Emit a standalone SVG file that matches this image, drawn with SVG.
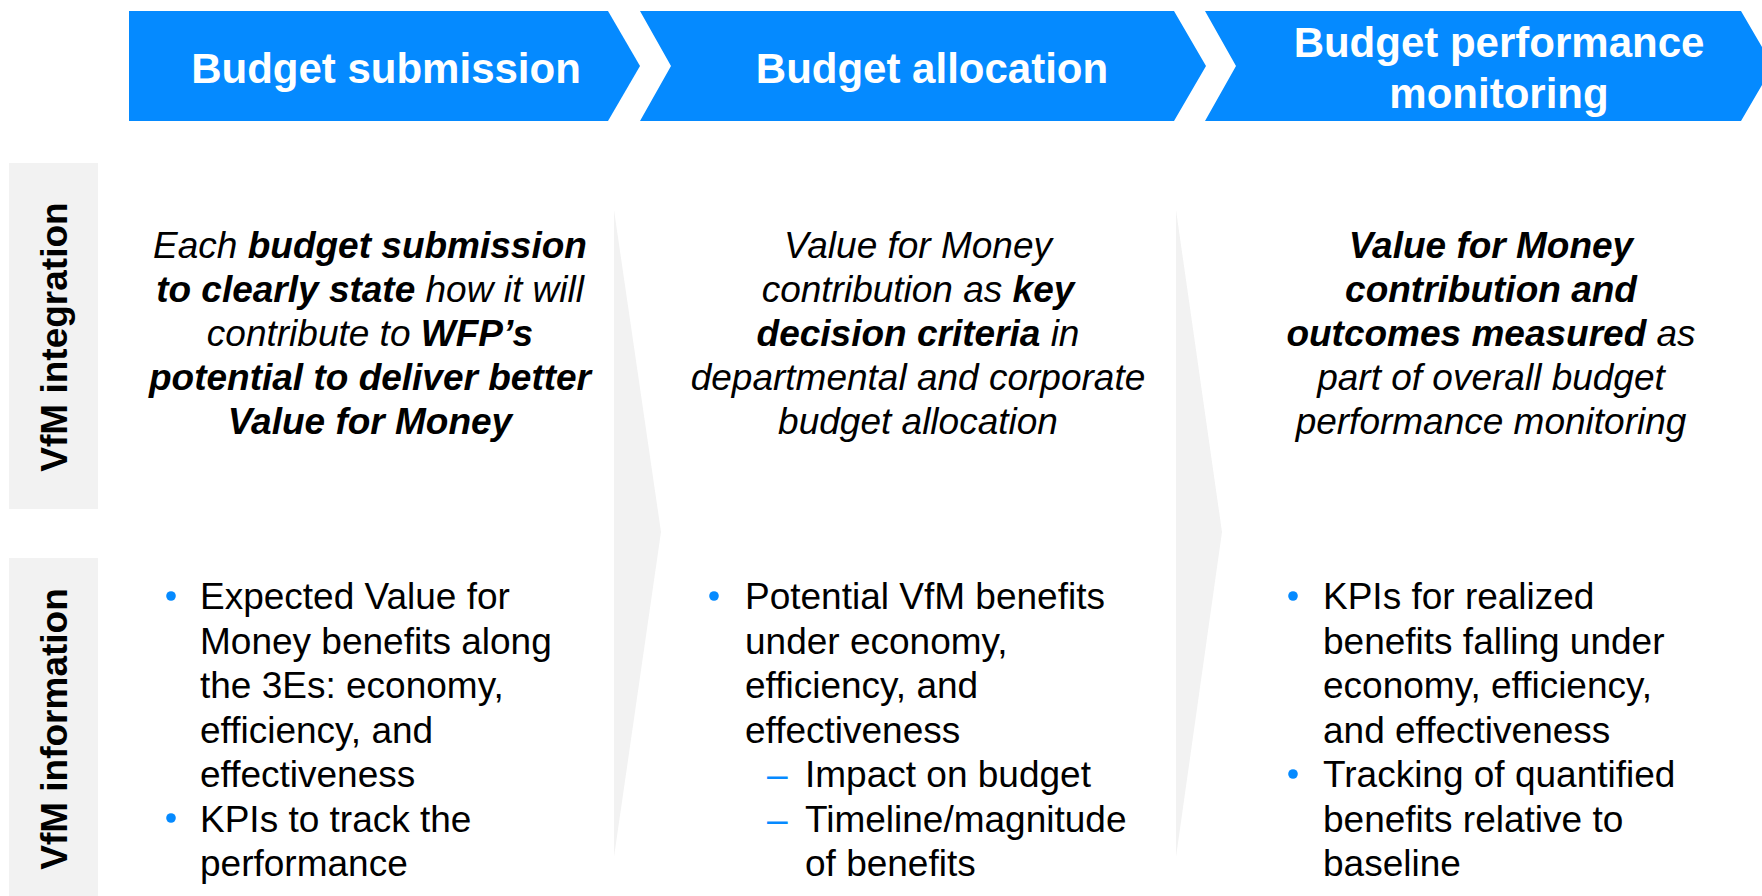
<svg xmlns="http://www.w3.org/2000/svg" width="1762" height="896" viewBox="0 0 1762 896">
  <style>
    .phase { fill: #058AFF; }
    .phase-label { font-family: "Liberation Sans", Arial, sans-serif; font-size: 42px; font-weight: bold; fill: #FFFFFF; text-anchor: middle; }
    .sep { fill: #F2F2F2; }
    .row-box { fill: #F2F2F2; }
    .row-label { font-family: "Liberation Sans", Arial, sans-serif; font-size: 37px; font-weight: bold; fill: #000000; text-anchor: middle; }
    .stmt { font-family: "Liberation Sans", Arial, sans-serif; font-size: 37px; font-style: italic; fill: #000000; text-anchor: middle; }
    .stmt .b { font-weight: bold; }
    .item { font-family: "Liberation Sans", Arial, sans-serif; font-size: 37px; fill: #000000; }
    .dot { fill: #058AFF; }
    .dash { font-family: "Liberation Sans", Arial, sans-serif; font-size: 37px; fill: #058AFF; }
  </style>

  <!-- light chevrons separating the three columns -->
  <g id="separators">
    <polygon class="sep" points="614,210 661,532 614,857"/>
    <polygon class="sep" points="1176,210 1222,532 1176,857"/>
  </g>

  <!-- process phases -->
  <g id="phase-submission">
    <polygon class="phase" points="129,11 608,11 640,66 608,121 129,121"/>
    <text class="phase-label" x="386" y="83">Budget submission</text>
  </g>
  <g id="phase-allocation">
    <polygon class="phase" points="640,11 1174,11 1206,66 1174,121 640,121 671,66"/>
    <text class="phase-label" x="932" y="83">Budget allocation</text>
  </g>
  <g id="phase-monitoring">
    <polygon class="phase" points="1205,11 1741,11 1773,66 1741,121 1205,121 1236,66"/>
    <text class="phase-label" x="1499" y="57">Budget performance</text>
    <text class="phase-label" x="1499" y="108">monitoring</text>
  </g>

  <!-- row headings -->
  <g id="row-integration">
    <rect class="row-box" x="9" y="163" width="89" height="346"/>
    <text class="row-label" transform="translate(67,337) rotate(-90)">VfM integration</text>
  </g>
  <g id="row-information">
    <rect class="row-box" x="9" y="558" width="89" height="338"/>
    <text class="row-label" transform="translate(67,729) rotate(-90)">VfM information</text>
  </g>

  <!-- integration statements -->
  <g id="integration-submission">
    <text class="stmt" x="370" y="258">Each <tspan class="b">budget submission</tspan></text>
    <text class="stmt" x="370" y="302"><tspan class="b">to clearly state</tspan> how it will</text>
    <text class="stmt" x="370" y="346">contribute to <tspan class="b">WFP’s</tspan></text>
    <text class="stmt" x="370" y="390"><tspan class="b">potential to deliver better</tspan></text>
    <text class="stmt" x="370" y="434"><tspan class="b">Value for Money</tspan></text>
  </g>
  <g id="integration-allocation">
    <text class="stmt" x="918" y="258">Value for Money</text>
    <text class="stmt" x="918" y="302">contribution as <tspan class="b">key</tspan></text>
    <text class="stmt" x="918" y="346"><tspan class="b">decision criteria</tspan> in</text>
    <text class="stmt" x="918" y="390">departmental and corporate</text>
    <text class="stmt" x="918" y="434">budget allocation</text>
  </g>
  <g id="integration-monitoring">
    <text class="stmt" x="1491" y="258"><tspan class="b">Value for Money</tspan></text>
    <text class="stmt" x="1491" y="302"><tspan class="b">contribution and</tspan></text>
    <text class="stmt" x="1491" y="346"><tspan class="b">outcomes measured</tspan> as</text>
    <text class="stmt" x="1491" y="390">part of overall budget</text>
    <text class="stmt" x="1491" y="434">performance monitoring</text>
  </g>

  <!-- information bullets -->
  <g id="information-submission">
    <circle class="dot" cx="171" cy="596" r="4.8"/>
    <circle class="dot" cx="171" cy="818" r="4.8"/>
    <text class="item" x="200" y="609">Expected Value for</text>
    <text class="item" x="200" y="653.5">Money benefits along</text>
    <text class="item" x="200" y="698">the 3Es: economy,</text>
    <text class="item" x="200" y="742.5">efficiency, and</text>
    <text class="item" x="200" y="787">effectiveness</text>
    <text class="item" x="200" y="831.5">KPIs to track the</text>
    <text class="item" x="200" y="876">performance</text>
  </g>
  <g id="information-allocation">
    <circle class="dot" cx="714" cy="596" r="4.8"/>
    <text class="item" x="745" y="609">Potential VfM benefits</text>
    <text class="item" x="745" y="653.5">under economy,</text>
    <text class="item" x="745" y="698">efficiency, and</text>
    <text class="item" x="745" y="742.5">effectiveness</text>
    <text class="dash" x="767" y="787">–</text>
    <text class="item" x="805" y="787">Impact on budget</text>
    <text class="dash" x="767" y="831.5">–</text>
    <text class="item" x="805" y="831.5">Timeline/magnitude</text>
    <text class="item" x="805" y="876">of benefits</text>
  </g>
  <g id="information-monitoring">
    <circle class="dot" cx="1293" cy="596" r="4.8"/>
    <circle class="dot" cx="1293" cy="774" r="4.8"/>
    <text class="item" x="1323" y="609">KPIs for realized</text>
    <text class="item" x="1323" y="653.5">benefits falling under</text>
    <text class="item" x="1323" y="698">economy, efficiency,</text>
    <text class="item" x="1323" y="742.5">and effectiveness</text>
    <text class="item" x="1323" y="787">Tracking of quantified</text>
    <text class="item" x="1323" y="831.5">benefits relative to</text>
    <text class="item" x="1323" y="876">baseline</text>
  </g>
</svg>
